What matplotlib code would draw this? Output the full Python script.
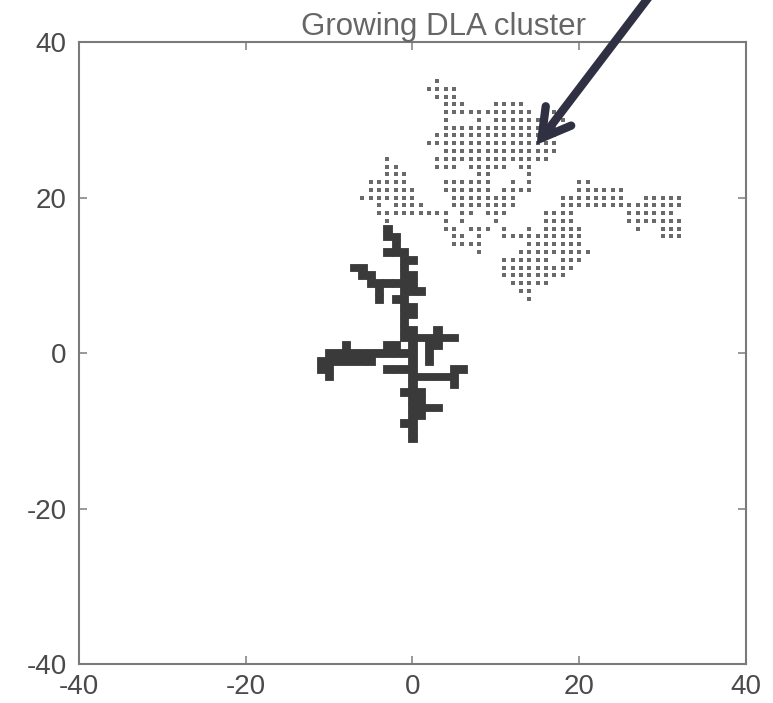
import matplotlib
matplotlib.use("Agg")
import matplotlib.pyplot as plt
from matplotlib.patches import Rectangle, FancyArrowPatch
from matplotlib.collections import PatchCollection
import numpy as np

plt.rcParams['font.family'] = ['Liberation Sans', 'DejaVu Sans']
plt.rcParams['axes.unicode_minus'] = False

# cluster sites already stuck (x, y)
cluster_x = [-3, -3, -2, -2, -3, -2, -1, -1, 0, -1, -1, 0, -1, 0, -1, 0, 1,
             -7, -6, -6, -5, -5, -4, -3, -2, -4, -4,
             -2, -1, -1, 0, -1, -1, 0,
             -1, 0, -1, 0, 0, 0, 0,
             3, 1, 2, 3, 4, 5, 2, 3, 2, 2,
             -3, -2, -8, -8, -7, -6, -5, -4, -3, -2, -1, -8, -7, -6, -5,
             -9, -9, -10, -11, -10, -11, -10, -10,
             0, 0, 0, 0, 0, 0, 0, 0, 0, 0,
             -3, -2, -1, 1, 2, 3, 4, 5, 5, 6, 5,
             -1, 1, 1, 1, 2, 3, -1, 1]
cluster_y = [16, 15, 15, 14, 13, 13, 13, 12, 12, 11, 10, 10, 9, 9, 8, 8, 8,
             11, 11, 10, 10, 9, 9, 9, 9, 8, 7,
             7, 7, 6, 6, 5, 4, 5,
             3, 3, 2, 2, 1, 0, -1,
             3, 2, 2, 2, 2, 2, 1, 1, 0, -1,
             1, 1, 1, 0, 0, 0, 0, 0, 0, 0, 0, -1, -1, -1, -1,
             0, -1, 0, -1, -1, -2, -2, -3,
             -2, -3, -4, -5, -6, -7, -8, -9, -10, -11,
             -2, -2, -2, -3, -3, -3, -3, -3, -2, -2, -4,
             -5, -5, -6, -7, -7, -7, -9, -8]

# sites visited by the current random walker, listed per row: y -> x values
walk_rows = {
    35: [3],
    34: [2, 3, 4, 5],
    33: [3, 4, 5],
    32: [4, 5, 6, 10, 11, 12, 13],
    31: list(range(4, 15)) + [16, 17],
    30: [4, 8] + list(range(10, 19)),
    29: list(range(4, 18)),
    28: list(range(3, 18)),
    27: list(range(2, 18)),
    26: list(range(4, 18)),
    25: [-3] + list(range(3, 17)),
    24: [-3, -2, 3, 4, 5, 7, 8, 9, 10, 11, 13, 14],
    23: [-3, -2, -1, 8, 9, 14],
    22: [-5, -4, -3, -2, -1, 4, 5, 6, 7, 8, 9, 12, 14, 20, 21],
    21: [-5, -4, -3, -2, -1, 0, 4, 5, 6, 7, 8, 9, 11, 12, 13, 14,
         20, 21, 22, 23, 24, 25],
    20: [-6, -5, -4, -3, -2, -1, 0] + list(range(5, 13))
        + list(range(18, 26)) + list(range(28, 33)),
    19: [-4, -2, -1, 0, 1] + list(range(5, 13)) + list(range(18, 33)),
    18: list(range(-4, 5)) + [6, 7, 9, 10, 11, 16, 17, 18, 19]
        + list(range(26, 32)),
    17: [-3, 4, 6, 10, 16, 17, 18, 19] + list(range(26, 33)),
    16: [4, 5, 7, 8, 9, 11, 14, 16, 17, 18, 19, 20, 27, 30, 31, 32],
    15: [5, 6, 8] + list(range(11, 21)) + [30, 31, 32],
    14: [5, 6, 7, 8] + list(range(14, 21)),
    13: [8] + list(range(13, 22)),
    12: [11, 12, 13, 14, 15, 16, 18, 19, 20],
    11: list(range(11, 20)),
    10: list(range(11, 19)),
    9: [12, 13, 14, 15, 16],
    8: [13, 14],
    7: [14],
}
walk_x = [x for y, xs in walk_rows.items() for x in xs]
walk_y = [y for y, xs in walk_rows.items() for x in xs]

ticks = [-40, -20, 0, 20, 40]

fig = plt.figure(figsize=(7.73, 7.03), dpi=100, facecolor='white')
ax = fig.add_axes([0.1022, 0.0555, 0.8628, 0.8845])
ax.set_xlim(-40, 40)
ax.set_ylim(-40, 40)

# walker trail as small grey dots
ax.scatter(walk_x, walk_y, marker='s', s=5, color='#6a6a6a', linewidths=0, zorder=2)

# stuck particles as unit squares
cells = [Rectangle((x - 0.5, y - 0.5), 1, 1) for x, y in zip(cluster_x, cluster_y)]
ax.add_collection(PatchCollection(cells, facecolor='#3a3a3a', edgecolor='#3a3a3a',
                                  linewidth=0.6, zorder=3))

ax.set_xticks(ticks)
ax.set_yticks(ticks)
ax.tick_params(direction='in', length=6, width=1.2, colors='#888888',
               labelcolor='#4a4a4a', labelsize=20, top=True, right=True)
ax.tick_params(axis='x', pad=7)
ax.tick_params(axis='y', pad=9)
for sp in ax.spines.values():
    sp.set_color('#7a7a7a')
    sp.set_linewidth(1.5)

fig.text(0.574, 1 - 35 / 703, 'Growing DLA cluster', ha='center', va='baseline',
         fontsize=22.5, color='#666666')

# pointer to the walker
arrow = FancyArrowPatch((0.842, 1.008), (0.692, 0.791), transform=fig.transFigure,
                        arrowstyle='->,head_length=2.0,head_width=1.15',
                        mutation_scale=10, linewidth=6, color='#2f3142',
                        capstyle='round', joinstyle='miter', zorder=10)
fig.patches.append(arrow)

fig.savefig('out.png', dpi=100, facecolor='white')
